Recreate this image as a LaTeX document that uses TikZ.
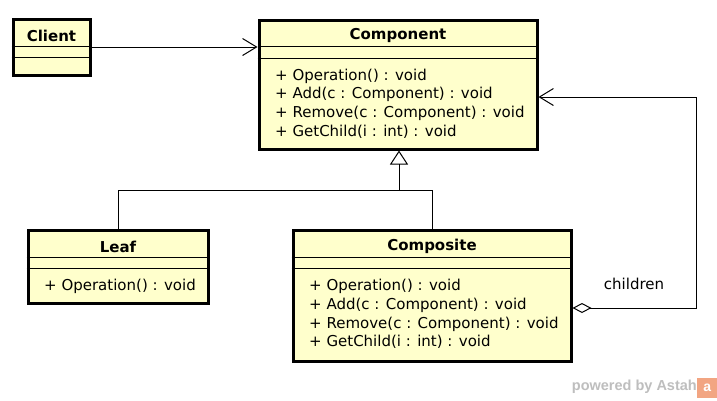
\documentclass[tikz,border=0pt]{standalone}
\usepackage{fontspec}
\setmainfont{DejaVu Sans}
\newfontfamily\logofont{Liberation Sans}
\usetikzlibrary{arrows.meta,calc}
\definecolor{classfill}{RGB}{255,255,204}
\definecolor{logogray}{RGB}{190,190,190}
\definecolor{logoorange}{RGB}{242,165,130}
\tikzset{
  classbox/.style={draw=black, fill=classfill, line width=3pt, inner sep=0pt},
  sepline/.style={line width=1pt},
  titletext/.style={font=\fontsize{15}{18}\selectfont\bfseries, inner sep=0pt},
  optext/.style={font=\fontsize{15}{18.7}\selectfont, align=left, anchor=west, inner sep=0pt},
  conn/.style={line width=1pt},
  openarrow/.style={-{Straight Barb[length=14pt,width=17pt,line width=1pt]}},
}
\begin{document}
\begin{tikzpicture}[x=1pt,y=-1pt]
\useasboundingbox (0,0) rectangle (717,400);
\fill[white] (0,0) rectangle (717,400);

% Client
\node[classbox, minimum width=77pt, minimum height=56pt] (client) at (51.5,47) {};
\draw[sepline] ($(client.north west)+(0,29)$) -- ($(client.north east)+(0,29)$);
\draw[sepline] ($(client.north west)+(0,40)$) -- ($(client.north east)+(0,40)$);
\node[titletext] (clientT) at (51.5,35.5) {Client};

% Component
\node[classbox, minimum width=278pt, minimum height=129pt] (comp) at (398,84.5) {};
\draw[sepline] ($(comp.north west)+(0,28)$) -- ($(comp.north east)+(0,28)$);
\draw[sepline] ($(comp.north west)+(0,40)$) -- ($(comp.north east)+(0,40)$);
\node[titletext] (compT) at (398,35.5) {Component};
\node[optext] (compO) at (275,103.5) {+ Operation() : void\\+ Add(c : Component) : void\\+ Remove(c : Component) : void\\+ GetChild(i : int) : void};

% Leaf
\node[classbox, minimum width=180pt, minimum height=73pt] (leaf) at (118,266.5) {};
\draw[sepline] ($(leaf.north west)+(0,29)$) -- ($(leaf.north east)+(0,29)$);
\draw[sepline] ($(leaf.north west)+(0,40)$) -- ($(leaf.north east)+(0,40)$);
\node[titletext] (leafT) at (118,246.5) {Leaf};
\node[optext] (leafO) at (44,286) {+ Operation() : void};

% Composite
\node[classbox, minimum width=278pt, minimum height=131pt] (compo) at (432,295.5) {};
\draw[sepline] ($(compo.north west)+(0,29)$) -- ($(compo.north east)+(0,29)$);
\draw[sepline] ($(compo.north west)+(0,40)$) -- ($(compo.north east)+(0,40)$);
\node[titletext] (compoT) at (432,246.5) {Composite};
\node[optext] (compoO) at (309,314) {+ Operation() : void\\+ Add(c : Component) : void\\+ Remove(c : Component) : void\\+ GetChild(i : int) : void};

% Client -> Component
\draw[conn, openarrow] (client.east) -- (client.east -| comp.west);

% Generalization
\coordinate (gj) at ($(comp.south)+(1,40)$);
\draw[conn] (leaf.north) |- (gj) -| (compo.north);
\draw[conn, -{Triangle[open,length=14pt,width=18pt,line width=1pt]}] (gj) -- ($(comp.south)+(1,0)$);

% Aggregation
\coordinate (aggS) at ($(compo.east)+(0,12.5)$);
\coordinate (aggE) at ($(comp.east)+(0,12.5)$);
\coordinate (aggC1) at (696,308);
\coordinate (aggC2) at (696,97);
\draw[conn, {Diamond[open,length=19pt,width=10pt,line width=1pt]}-{Straight Barb[length=14pt,width=17pt,line width=1pt]}]
  (aggS) -- (aggC1) -- (aggC2) -- (aggE);
\node[font=\fontsize{15}{18}\selectfont, inner sep=0pt] (children) at (634,284) {children};

% Logo
\node[font=\logofont\fontsize{14.5}{16}\selectfont\bfseries, text=logogray, inner sep=0pt, anchor=east] (powered) at (697,387) {powered by Astah};
\node[fill=logoorange, minimum width=20pt, minimum height=20pt, inner sep=0pt, text=white, font=\logofont\fontsize{14}{14}\selectfont\bfseries, anchor=west] (logo) at (697,388) {a};
\end{tikzpicture}
\end{document}
